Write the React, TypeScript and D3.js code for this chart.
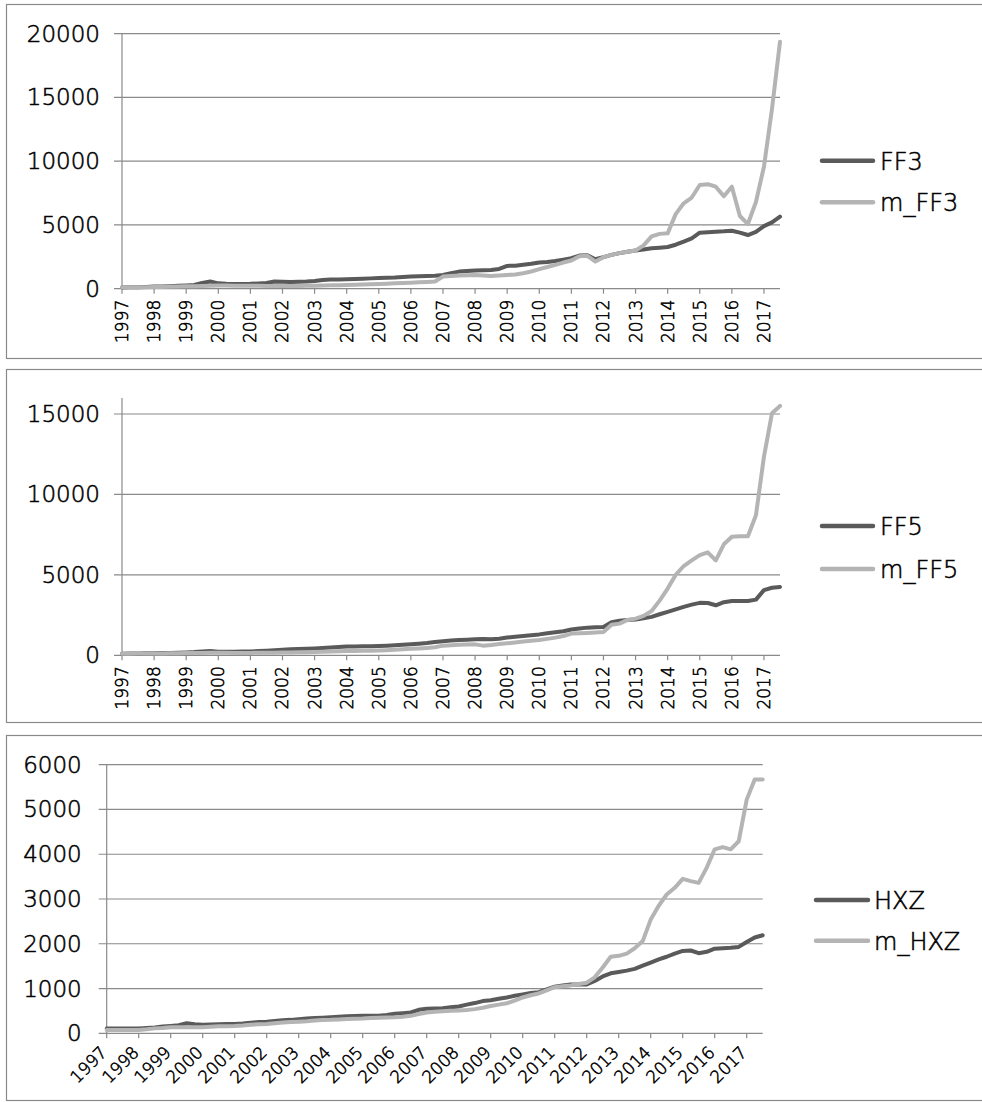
import React from "react";
import * as d3 from "d3";

const YEAR_LABELS = ["1997","1998","1999","2000","2001","2002","2003","2004","2005","2006","2007","2008","2009","2010","2011","2012","2013","2014","2015","2016","2017"];
const START_YEAR = 1997;
const END_YEAR = 2017.5;
const STEP = 0.25; // quarterly observations

const FF3 = [
  100, 110, 120, 140, 170, 180, 200, 230, 260, 300, 450, 560, 420, 380, 360, 370,
  380, 410, 450, 560, 540, 530, 550, 560, 600, 690, 720, 720, 740, 760, 780, 810,
  840, 860, 880, 920, 950, 970, 990, 1020, 1080, 1220, 1340, 1380, 1420, 1440, 1470, 1550,
  1790, 1800, 1870, 1950, 2050, 2100, 2180, 2280, 2390, 2600, 2620, 2310, 2480, 2650, 2790, 2900,
  3000, 3080, 3180, 3220, 3270, 3450, 3690, 3950, 4390, 4430, 4470, 4500, 4550, 4400, 4210, 4450,
  4910, 5200, 5650,
];
const M_FF3 = [
  100, 105, 110, 120, 130, 140, 150, 170, 190, 200, 220, 240, 250, 245, 240, 235,
  230, 225, 220, 215, 210, 215, 220, 225, 230, 250, 270, 280, 290, 310, 330, 350,
  370, 390, 420, 450, 470, 500, 530, 560, 950, 1000, 1040, 1060, 1080, 1040, 1000, 1040,
  1080, 1120, 1210, 1350, 1530, 1700, 1870, 2050, 2210, 2550, 2580, 2130, 2470, 2650, 2790, 2900,
  3000, 3400, 4100, 4300, 4340, 5850, 6700, 7150, 8130, 8200, 8000, 7250, 8000, 5700, 5070, 6800,
  9570, 14100, 19370,
];
const FF5 = [
  100, 105, 110, 120, 130, 140, 150, 160, 180, 200, 240, 260, 220, 215, 220, 230,
  240, 260, 290, 320, 350, 370, 390, 400, 420, 450, 480, 510, 540, 550, 560, 570,
  580, 600, 620, 650, 680, 720, 760, 820, 870, 920, 950, 970, 1000, 1020, 1000, 1030,
  1100, 1150, 1200, 1250, 1300, 1370, 1430, 1500, 1600, 1660, 1720, 1740, 1760, 2050, 2150, 2200,
  2220, 2300, 2390, 2550, 2700, 2850, 3010, 3150, 3260, 3250, 3110, 3300, 3380, 3380, 3380, 3460,
  4050, 4200, 4250,
];
const M_FF5 = [
  100, 100, 105, 110, 110, 115, 120, 130, 140, 150, 150, 155, 160, 155, 150, 150,
  150, 155, 160, 165, 170, 175, 185, 190, 200, 215, 230, 245, 260, 270, 280, 290,
  300, 320, 350, 380, 400, 430, 460, 500, 600, 630, 650, 670, 680, 600, 640, 700,
  750, 800, 860, 900, 950, 1020, 1100, 1200, 1350, 1370, 1390, 1420, 1450, 1900, 1970, 2200,
  2280, 2450, 2750, 3400, 4150, 5000, 5550, 5900, 6230, 6400, 5900, 6900, 7370, 7400, 7400, 8700,
  12350, 15040, 15500,
];
const HXZ = [
  110, 110, 110, 110, 110, 120, 130, 150, 165, 180, 225, 200, 190, 195, 200, 205,
  210, 220, 235, 250, 260, 275, 290, 300, 315, 330, 340, 350, 360, 370, 380, 385,
  390, 390, 390, 410, 435, 450, 465, 525, 550, 555, 560, 580, 600, 640, 675, 720,
  740, 770, 800, 840, 870, 900, 920, 980, 1040, 1070, 1090, 1090, 1090, 1170, 1270, 1340,
  1370, 1400, 1440, 1510, 1580, 1650, 1710, 1780, 1840, 1850, 1790, 1820, 1890, 1900, 1910, 1930,
  2040, 2140, 2190,
];
const M_HXZ = [
  75, 75, 75, 75, 75, 90, 110, 120, 135, 135, 135, 135, 135, 145, 155, 160,
  165, 175, 190, 200, 210, 225, 240, 250, 260, 270, 285, 295, 300, 310, 320, 325,
  330, 340, 350, 355, 360, 370, 390, 430, 465, 480, 495, 505, 510, 520, 540, 570,
  610, 640, 670, 730, 800, 850, 890, 960, 1030, 1050, 1070, 1100, 1130, 1250, 1470, 1710,
  1730, 1780, 1900, 2060, 2540, 2850, 3100, 3250, 3450, 3400, 3360, 3700, 4110, 4160, 4110, 4290,
  5220, 5670, 5670,
];

const TICKS_FF3 = [0, 5000, 10000, 15000, 20000];
const TICKS_FF5 = [0, 5000, 10000, 15000];
const TICKS_HXZ = [0, 1000, 2000, 3000, 4000, 5000, 6000];

const DARK = "#5a5a5a";
const LIGHT = "#b4b4b4";
const GRID = "#8a8a8a";
const FONT = "'DejaVu Sans', sans-serif";
const TEXT_STYLE = {
  fontFamily: FONT,
  fontWeight: 200,
  fill: "#000",
  stroke: "#000",
  strokeWidth: 0.55,
} as const;

type PanelProps = {
  boxTop: number;
  boxBottom: number;
  left: number;
  right: number;
  yZero: number;
  yTop: number;
  yMax: number;
  ticks: number[];
  labelGap: number;
  diagLabels: boolean;
  dark: number[];
  light: number[];
  names: [string, string];
  legend: { x1: number; x2: number; y1: number; y2: number; tx: number };
};

function Panel(p: PanelProps) {
  const x = d3.scaleLinear().domain([START_YEAR, END_YEAR]).range([p.left, p.right]);
  const y = d3.scaleLinear().domain([0, p.yMax]).range([p.yZero, p.yTop]);
  const line = d3
    .line<number>()
    .x((_, i) => x(START_YEAR + i * STEP))
    .y((d) => y(d))
    .curve(d3.curveLinear);
  const years = YEAR_LABELS.map((s) => +s);
  return (
    <g>
      <rect x={6.5} y={p.boxTop + 0.5} width={990} height={p.boxBottom - p.boxTop} fill="#fff" stroke={GRID} strokeWidth={1.2} />
      {p.ticks.map((t) => (
        <g key={t}>
          <line x1={p.left - 8} x2={p.right} y1={y(t)} y2={y(t)} stroke={GRID} strokeWidth={1.2} />
          <text x={p.left - p.labelGap} y={y(t)} textAnchor="end" dominantBaseline="central" fontSize={23} style={TEXT_STYLE}>
            {t}
          </text>
        </g>
      ))}
      <line x1={p.left} x2={p.left} y1={p.yTop} y2={p.yZero} stroke={GRID} strokeWidth={1.2} />
      {years.map((yr, i) => (
        <g key={yr}>
          <line x1={x(yr)} x2={x(yr)} y1={p.yZero} y2={p.yZero + 5} stroke={GRID} strokeWidth={1.2} />
          {p.diagLabels ? (
            <text transform={`translate(${x(yr) - 3},${p.yZero + 16}) rotate(-45)`} textAnchor="end" dominantBaseline="central" fontSize={17} style={TEXT_STYLE}>
              {YEAR_LABELS[i]}
            </text>
          ) : (
            <text transform={`translate(${x(yr)},${p.yZero + 11}) rotate(-90)`} textAnchor="end" dominantBaseline="central" fontSize={17} style={TEXT_STYLE}>
              {YEAR_LABELS[i]}
            </text>
          )}
        </g>
      ))}
      <path d={line(p.dark) ?? ""} fill="none" stroke={DARK} strokeWidth={4} strokeLinejoin="round" strokeLinecap="round" />
      <path d={line(p.light) ?? ""} fill="none" stroke={LIGHT} strokeWidth={4} strokeLinejoin="round" strokeLinecap="round" />
      <line x1={p.legend.x1} x2={p.legend.x2} y1={p.legend.y1} y2={p.legend.y1} stroke={DARK} strokeWidth={4.5} strokeLinecap="round" />
      <line x1={p.legend.x1} x2={p.legend.x2} y1={p.legend.y2} y2={p.legend.y2} stroke={LIGHT} strokeWidth={4.5} strokeLinecap="round" />
      <text x={p.legend.tx} y={p.legend.y1 + 1} dominantBaseline="central" fontSize={24} style={TEXT_STYLE}>
        {p.names[0]}
      </text>
      <text x={p.legend.tx} y={p.legend.y2 + 1} dominantBaseline="central" fontSize={24} style={TEXT_STYLE}>
        {p.names[1]}
      </text>
    </g>
  );
}

export default function App() {
  return (
    <div style={{ position: "absolute", left: 0, top: 0 }}>
      <svg width={982} height={1102} style={{ display: "block", background: "#fff" }}>
        <Panel
          boxTop={4} boxBottom={358} left={122} right={780} yZero={288.7} yTop={33.7} yMax={20000}
          ticks={TICKS_FF3} labelGap={22} diagLabels={false} dark={FF3} light={M_FF3} names={["FF3", "m_FF3"]}
          legend={{ x1: 822, x2: 873, y1: 160.7, y2: 202.3, tx: 880 }}
        />
        <Panel
          boxTop={369} boxBottom={722} left={122} right={780} yZero={655.3} yTop={397.9} yMax={16000}
          ticks={TICKS_FF5} labelGap={22} diagLabels={false} dark={FF5} light={M_FF5} names={["FF5", "m_FF5"]}
          legend={{ x1: 822, x2: 873, y1: 526, y2: 569, tx: 880 }}
        />
        <Panel
          boxTop={735} boxBottom={1100} left={106.7} right={762.7} yZero={1033.3} yTop={764.7} yMax={6000}
          ticks={TICKS_HXZ} labelGap={25} diagLabels={true} dark={HXZ} light={M_HXZ} names={["HXZ", "m_HXZ"]}
          legend={{ x1: 816, x2: 868, y1: 900, y2: 940.7, tx: 874 }}
        />
      </svg>
    </div>
  );
}
